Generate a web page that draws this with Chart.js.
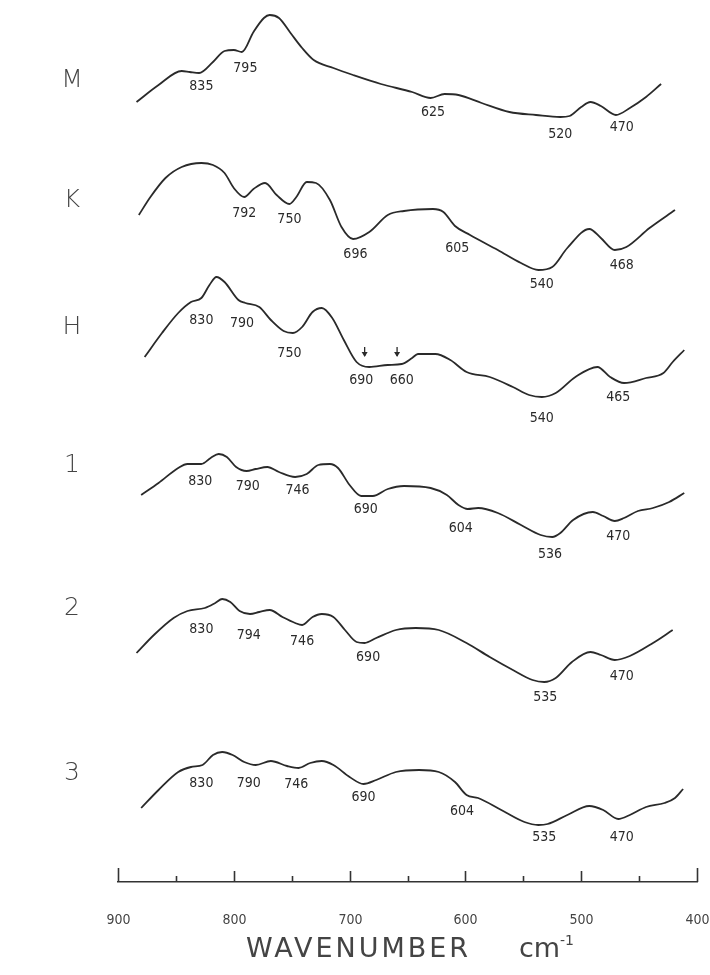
<!DOCTYPE html>
<html><head><meta charset="utf-8">
<script src="https://cdn.jsdelivr.net/npm/chart.js@4"></script>
<style>html,body{margin:0;padding:0;background:#fff;}#wrap{width:710px;height:975px;}</style>
</head><body><div id="wrap"><canvas id="c" width="710" height="975"></canvas></div>
<script>
// ---- data (wavenumber cm-1, relative transmittance in stacked arbitrary units) ----
const samples = ['M', 'K', 'H', '1', '2', '3'];
const sampleLevel = [82.0, 70.0, 57.3, 43.5, 29.2, 12.7];
const xTickLabels = [900, 800, 700, 600, 500, 400];

const wnM = [884,865,845,838,830,818,808,800,793,783,774,769,761,751,741,731,714,697,673,646,630,618,606,586,562,539,518,510,500,492,483,470,458,444,431];
const tM  = [79.8,81.5,82.9,82.8,82.7,83.8,84.9,85.0,84.8,86.8,88.2,88.5,88.2,86.7,85.2,84.0,83.2,82.5,81.6,80.8,80.2,80.6,80.5,79.7,78.8,78.5,78.3,78.4,79.3,79.8,79.4,78.5,79.2,80.3,81.6];

const wnK = [882,872,859,845,828,818,808,800,791,783,773,763,752,746,737,729,717,707,697,683,667,653,628,619,609,596,572,552,537,525,512,493,483,471,461,441,419];
const tK  = [68.5,70.3,72.2,73.3,73.7,73.5,72.7,71.2,70.3,71.1,71.7,70.5,69.6,70.3,71.8,71.7,70.0,67.3,66.1,66.8,68.5,68.9,69.1,68.8,67.4,66.5,65.0,63.7,63.0,63.3,65.2,67.1,66.2,65.0,65.3,67.2,69.0];

const wnH = [877,862,848,837,828,821,815,808,796,790,778,768,757,749,741,732,724,715,705,694,683,667,655,646,641,626,613,599,579,559,545,534,522,505,486,475,463,444,429,421,411];
const tH  = [54.3,56.7,58.7,59.8,60.2,61.5,62.3,61.8,60.0,59.7,59.3,58.0,56.9,56.7,57.3,58.8,59.2,58.2,56.0,53.8,53.3,53.5,53.6,54.2,54.6,54.6,54.0,52.8,52.3,51.3,50.5,50.3,50.7,52.3,53.3,52.3,51.7,52.2,52.7,53.8,55.0];

const wn1 = [880,865,848,840,828,820,813,806,798,789,781,771,761,747,737,727,717,710,700,690,680,667,653,630,616,606,598,589,572,552,535,525,518,507,490,481,471,463,451,438,424,411];
const t1  = [40.5,41.7,43.2,43.6,43.6,44.2,44.6,44.3,43.3,42.9,43.1,43.3,42.8,42.3,42.6,43.5,43.6,43.2,41.5,40.4,40.4,41.1,41.4,41.2,40.5,39.5,39.1,39.2,38.7,37.5,36.5,36.3,36.7,38.0,38.8,38.4,37.9,38.2,38.9,39.2,39.8,40.7];

const wn2 = [884,869,852,840,825,816,810,803,795,786,778,769,758,747,741,732,724,714,704,694,687,677,660,643,623,599,579,559,542,532,522,508,492,483,471,458,438,421];
const t2  = [24.7,26.5,28.2,28.9,29.2,29.7,30.1,29.8,28.9,28.6,28.8,29.0,28.3,27.7,27.5,28.3,28.6,28.3,27.0,25.8,25.7,26.2,27.0,27.2,27.0,25.7,24.3,23.0,22.0,21.8,22.2,23.8,24.8,24.5,24.0,24.4,25.7,27.0];

const wn3 = [880,865,848,837,827,818,810,801,791,781,768,754,744,734,724,714,700,688,677,660,640,623,609,599,589,569,549,537,529,512,493,481,468,458,444,428,419,412];
const t3  = [9.2,11.0,12.8,13.3,13.5,14.5,14.8,14.5,13.8,13.5,13.9,13.4,13.2,13.7,13.9,13.5,12.3,11.6,12.0,12.8,13.0,12.8,11.8,10.5,10.2,9.0,7.8,7.5,7.6,8.5,9.4,9.0,8.1,8.5,9.3,9.7,10.2,11.1];

// band annotations: [label, wavenumber anchor, level]
const bandsM = [[835,828,81.4],[795,790,83.2],[625,628,78.8],[520,518,76.6],[470,465,77.3]];
const bandsK = [[792,791,68.7],[750,752,68.1],[696,695,64.6],[605,607,65.2],[540,534,61.6],[468,465,63.5]];
const bandsH = [[830,828,58.0],[790,793,57.7],[750,752,54.7],[690,690,52.0],[660,655,52.0],[540,534,48.2],[465,468,50.3]];
const bands1 = [[830,829,41.9],[790,788,41.4],[746,745,41.0],[690,686,39.1],[604,604,37.2],[536,527,34.6],[470,468,36.4]];
const bands2 = [[830,828,27.1],[794,787,26.5],[746,741,25.9],[690,684,24.3],[535,531,20.3],[470,465,22.4]];
const bands3 = [[830,828,11.7],[790,787,11.7],[746,746,11.6],[690,688,10.3],[604,603,8.9],[535,532,6.3],[470,465,6.3]];
// shoulder arrows on H: [wavenumber, level]
const arrowsH = [[687,55.3],[659,55.3]];

const seriesWn = [wnM, wnK, wnH, wn1, wn2, wn3];
const seriesT = [tM, tK, tH, t1, t2, t3];
const allBands = [bandsM, bandsK, bandsH, bands1, bands2, bands3];

const INK = '#2a2a2a';

const decor = {
  id: 'decor',
  afterDraw(chart) {
    const {ctx, chartArea, scales: {x, y}} = chart;
    ctx.save();
    // upward tick marks and tick labels of the wavenumber axis
    ctx.strokeStyle = '#333'; ctx.lineWidth = 1.6;
    ctx.fillStyle = '#444'; ctx.textAlign = 'center'; ctx.textBaseline = 'middle';
    ctx.font = '14px "DejaVu Sans Condensed", "DejaVu Sans"';
    x.ticks.forEach(t => {
      const px = Math.round(x.getPixelForValue(t.value)) + 0.5;
      const isEnd = t.value === x.min || t.value === x.max;
      const len = isEnd ? 14 : (t.value % 100 === 0 ? 11 : 6);
      ctx.beginPath(); ctx.moveTo(px, chartArea.bottom); ctx.lineTo(px, chartArea.bottom - len); ctx.stroke();
      if (xTickLabels.includes(t.value)) ctx.fillText(String(t.value), px, chartArea.bottom + 38);
    });
    // sample names
    ctx.fillStyle = '#444';
    ctx.font = '200 25px "DejaVu Sans"';
    samples.forEach((s, i) => ctx.fillText(s, 72, y.getPixelForValue(sampleLevel[i])));
    // band labels
    ctx.fillStyle = INK;
    ctx.font = '14px "DejaVu Sans Condensed", "DejaVu Sans"';
    allBands.forEach(arr => arr.forEach(([lab, wn, lv]) => {
      ctx.fillText(String(lab), x.getPixelForValue(wn), y.getPixelForValue(lv));
    }));
    // arrows
    ctx.strokeStyle = INK; ctx.lineWidth = 1.3;
    arrowsH.forEach(([wn, lv]) => {
      const px = x.getPixelForValue(wn), py = y.getPixelForValue(lv);
      ctx.beginPath(); ctx.moveTo(px, py); ctx.lineTo(px, py + 9); ctx.stroke();
      ctx.beginPath(); ctx.moveTo(px - 3, py + 5); ctx.lineTo(px + 3, py + 5); ctx.lineTo(px, py + 10); ctx.closePath(); ctx.fill();
    });
    // axis title
    ctx.fillStyle = '#444'; ctx.textAlign = 'left'; ctx.textBaseline = 'alphabetic';
    ctx.font = '27px "DejaVu Sans"';
    ctx.letterSpacing = '3px';
    ctx.fillText('WAVENUMBER', 246, 957);
    ctx.letterSpacing = '0px';
    ctx.fillText('cm', 519, 957);
    ctx.font = '14px "DejaVu Sans"';
    ctx.fillText('-1', 560, 945);
    ctx.restore();
  }
};

new Chart(document.getElementById('c'), {
  type: 'line',
  data: {
    datasets: samples.map((s, i) => ({
      label: s,
      data: seriesWn[i].map((w, j) => ({x: w, y: seriesT[i][j]})),
      borderColor: INK,
      borderWidth: 1.8,
      pointRadius: 0,
      fill: false,
      cubicInterpolationMode: 'monotone'
    }))
  },
  options: {
    responsive: false, animation: false, devicePixelRatio: 1,
    layout: {padding: {left: 118, right: 13, top: 0, bottom: 93}},
    plugins: {legend: {display: false}, tooltip: {enabled: false}},
    scales: {
      x: {
        type: 'linear', reverse: true, min: 400, max: 900,
        border: {display: true, color: '#333', width: 1.6},
        grid: {display: true, drawOnChartArea: false, drawTicks: false},
        ticks: {stepSize: 50, display: false}
      },
      y: {type: 'linear', min: 1.8, max: 90, display: false}
    }
  },
  plugins: [decor]
});
</script>
</body></html>
